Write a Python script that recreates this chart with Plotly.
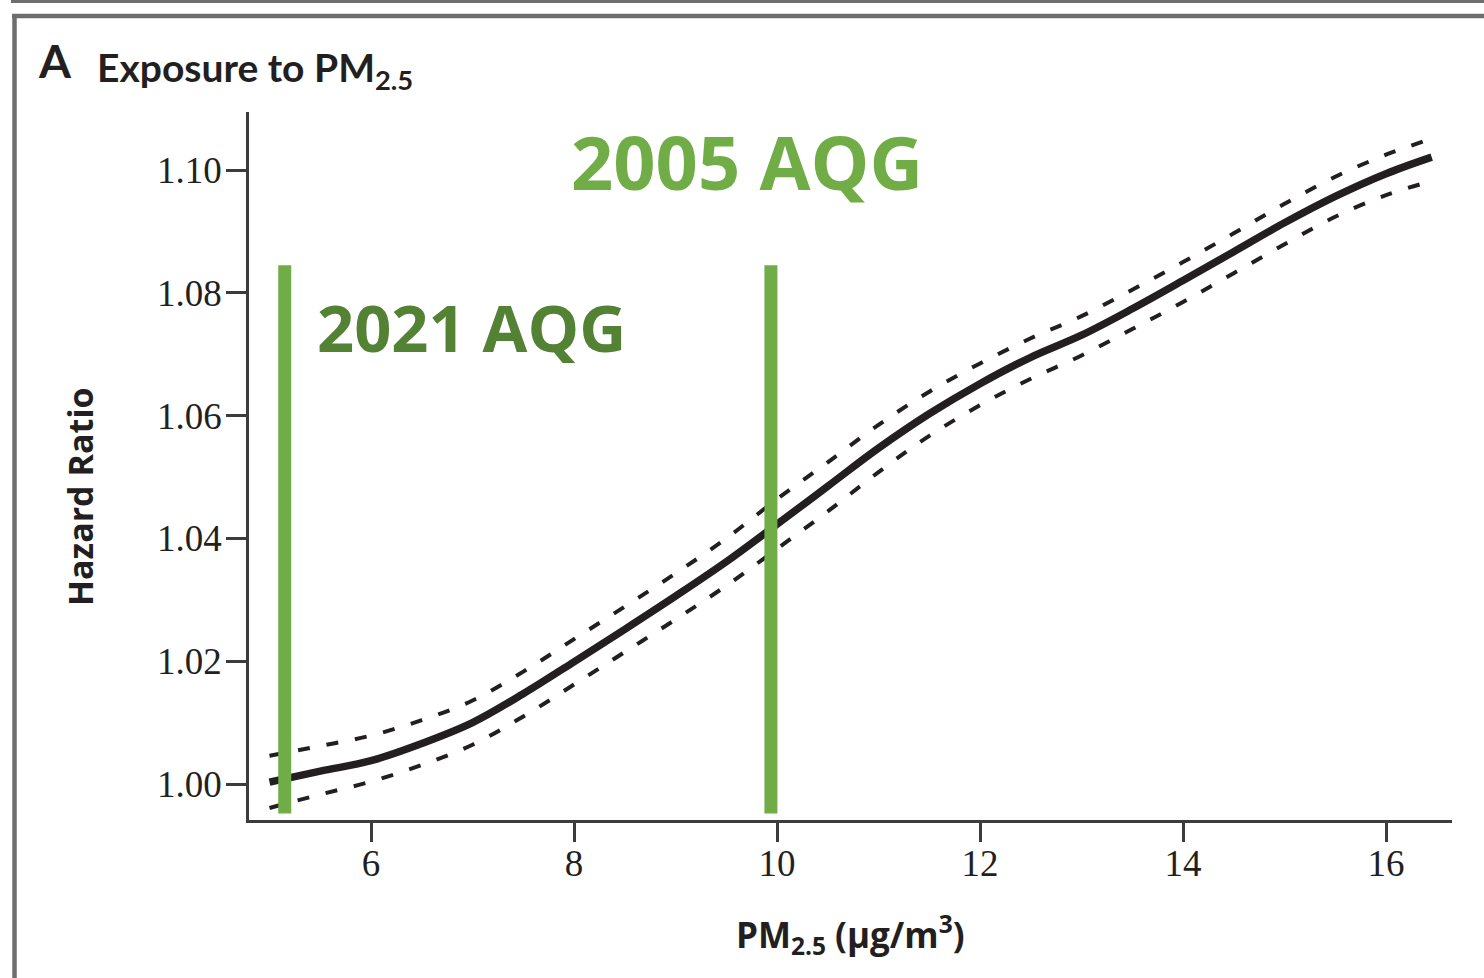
import plotly.graph_objects as go

# ---- data ----
pm25 = [5.0, 5.5, 6.0, 6.5, 7.0, 7.5, 8.0, 8.5, 9.0, 9.5, 10.0, 10.5, 11.0,
        11.5, 12.0, 12.5, 13.0, 13.5, 14.0, 14.5, 15.0, 15.5, 16.0, 16.45]
hazard_ratio = [1.0003, 1.0021, 1.0038, 1.0066, 1.0100, 1.0147, 1.0199, 1.0252,
                1.0306, 1.0362, 1.0423, 1.0485, 1.0547, 1.0603, 1.0652, 1.0695,
                1.0731, 1.0774, 1.0820, 1.0867, 1.0914, 1.0957, 1.0994, 1.1021]
ci_upper = [1.0046, 1.0062, 1.0079, 1.0104, 1.0136, 1.0183, 1.0236, 1.0289,
            1.0343, 1.0400, 1.0464, 1.0524, 1.0585, 1.0639, 1.0685, 1.0726,
            1.0762, 1.0805, 1.0850, 1.0897, 1.0945, 1.0989, 1.1025, 1.1051]
ci_lower = [0.9961, 0.9983, 1.0004, 1.0031, 1.0064, 1.0110, 1.0162, 1.0215,
            1.0268, 1.0323, 1.0383, 1.0444, 1.0508, 1.0567, 1.0617, 1.0660,
            1.0698, 1.0741, 1.0785, 1.0832, 1.0879, 1.0924, 1.0959, 1.0982]

x_ticks = [6, 8, 10, 12, 14, 16]
y_ticks = [1.00, 1.02, 1.04, 1.06, 1.08, 1.10]
y_tick_labels = ["1.00", "1.02", "1.04", "1.06", "1.08", "1.10"]

aqg_positions = [5.15, 9.94]          # drawn positions of the guideline bars
aqg_labels = ["2021 AQG", "2005 AQG"]

# ---- layout geometry (pixels) ----
W, H = 1484, 978
L, R, T, B = 249, 32, 112, 158
pw, ph = W - L - R, H - T - B

def px(xp):
    return (xp - L) / pw

def py(yp):
    return (H - B - yp) / ph

x_range = [4.798, 16.650]
y_range = [0.99414, 1.10945]

fig = go.Figure()
dash_style = "12px,17px"
fig.add_trace(go.Scatter(x=pm25, y=ci_upper, mode="lines",
                         line=dict(color="#231f20", width=4, dash=dash_style, shape="spline"),
                         hoverinfo="skip", showlegend=False))
fig.add_trace(go.Scatter(x=pm25, y=ci_lower, mode="lines",
                         line=dict(color="#231f20", width=4, dash=dash_style, shape="spline"),
                         hoverinfo="skip", showlegend=False))
fig.add_trace(go.Scatter(x=pm25, y=hazard_ratio, mode="lines",
                         line=dict(color="#231f20", width=7.5, shape="spline"),
                         showlegend=False))

shapes = []
for xv in aqg_positions:
    shapes.append(dict(type="line", xref="x", yref="y", x0=xv, x1=xv,
                       y0=0.9952, y1=1.0845, line=dict(color="#70AD47", width=13),
                       layer="above"))
frame_col = "#6e6e6e"
shapes += [
    dict(type="line", xref="paper", yref="paper", x0=px(11), x1=px(W), y0=py(1.5), y1=py(1.5),
         line=dict(color=frame_col, width=3)),
    dict(type="line", xref="paper", yref="paper", x0=px(12), x1=px(W), y0=py(16), y1=py(16),
         line=dict(color=frame_col, width=4.5)),
    dict(type="line", xref="paper", yref="paper", x0=px(14.5), x1=px(14.5), y0=py(14), y1=py(H),
         line=dict(color=frame_col, width=4.5)),
]

annotations = [
    dict(text="<b>A</b>", x=px(36), y=py(61), xref="paper", yref="paper",
         xanchor="left", yanchor="middle", showarrow=False,
         font=dict(family="Lato", size=46, color="#231f20")),
    dict(text="<b>Exposure to PM<sub>2.5</sub></b>", x=px(95), y=py(70), xref="paper", yref="paper",
         xanchor="left", yanchor="middle", showarrow=False,
         font=dict(family="Lato", size=39, color="#231f20")),
    dict(text="<b>Hazard Ratio</b>", x=px(80), y=py(497), xref="paper", yref="paper",
         xanchor="center", yanchor="middle", textangle=-90, showarrow=False,
         font=dict(family="Open Sans", size=34, color="#231f20")),
    dict(text="<b>PM<sub>2.5</sub> (\u03bcg/m<sup>3</sup>)</b>", x=px(850), y=py(934),
         xref="paper", yref="paper", xanchor="center", yanchor="middle", showarrow=False,
         font=dict(family="Open Sans", size=35, color="#231f20")),
    dict(text="<b>" + aqg_labels[1] + "</b>", x=px(747), y=py(162), xref="paper", yref="paper",
         xanchor="center", yanchor="middle", showarrow=False,
         font=dict(family="Open Sans", size=74, color="#70AD47")),
    dict(text="<b>" + aqg_labels[0] + "</b>", x=px(471), y=py(327), xref="paper", yref="paper",
         xanchor="center", yanchor="middle", showarrow=False,
         font=dict(family="Open Sans", size=65, color="#548235")),
]

fig.update_layout(
    width=W, height=H,
    margin=dict(l=L, r=R, t=T, b=B, pad=0),
    paper_bgcolor="white", plot_bgcolor="white",
    shapes=shapes, annotations=annotations,
    xaxis=dict(range=x_range, tickvals=x_ticks, ticktext=[str(v) for v in x_ticks],
               showgrid=False, zeroline=False, showline=True, linecolor="#3c3c3c", linewidth=2.5,
               ticks="outside", ticklen=19, tickwidth=2.5, tickcolor="#3c3c3c",
               ticklabelstandoff=-10,
               tickfont=dict(family="Liberation Serif", size=37, color="#231f20"),
               fixedrange=True),
    yaxis=dict(range=y_range, tickvals=y_ticks, ticktext=y_tick_labels,
               showgrid=False, zeroline=False, showline=True, linecolor="#3c3c3c", linewidth=2.5,
               ticks="outside", ticklen=20, tickwidth=2.5, tickcolor="#3c3c3c",
               ticklabelstandoff=-3,
               tickfont=dict(family="Liberation Serif", size=37, color="#231f20"),
               fixedrange=True),
)

fig.write_html("out.html", config={"displayModeBar": False},
               post_script="document.body.style.margin='0';document.body.style.overflow='hidden';")
